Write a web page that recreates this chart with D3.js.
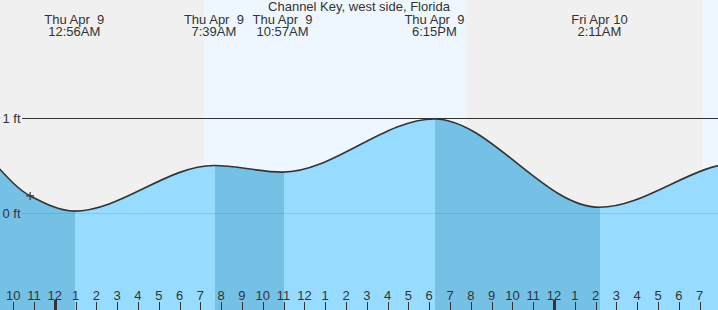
<!DOCTYPE html>
<html>
<head>
<meta charset="utf-8">
<script src="https://cdn.jsdelivr.net/npm/d3@7"></script>
<style>
  body { margin: 0; background: #fff; }
  svg { display: block; font-family: "Liberation Sans", Arial, sans-serif; }
  text { fill: #333; font-size: 13px; white-space: pre; }
</style>
</head>
<body>
<svg></svg>
<script>
let width = 718
let height = 310

// tide extremes (the outer ones lie outside the view and only shape the ends)
let tideTimes = ["2020-04-08T12:40", "2020-04-08T19:00", "2020-04-09T00:56", "2020-04-09T07:39", "2020-04-09T10:57", "2020-04-09T18:15", "2020-04-10T02:11", "2020-04-10T08:56", "2020-04-10T12:30"]
let tideHeights = [0.35, 0.85, 0.02, 0.50, 0.43, 0.99, 0.06, 0.53, 0.40]

// current reading (marked with a cross, lies on the curve)
let nowTime = "2020-04-08T22:49"
let nowHeight = 0.18

// labels above the chart, one per visible extreme
let labelDays = ["Thu Apr  9", "Thu Apr  9", "Thu Apr  9", "Thu Apr  9", "Fri Apr 10"]
let labelTimes = ["12:56AM", "7:39AM", "10:57AM", "6:15PM", "2:11AM"]

// sunrise / sunset
let sunTimes = ["2020-04-09T07:10", "2020-04-09T19:46", "2020-04-10T07:10"]

let yTicks = [0, 1]
let yTickLabels = ["0 ft", "1 ft"]

let title = "Channel Key, west side, Florida"

let parse = d3.timeParse("%Y-%m-%dT%H:%M")
let tides = tideTimes.map((t, i) => ({ time: parse(t), h: tideHeights[i] }))
let now = { time: parse(nowTime), h: nowHeight }
let suns = sunTimes.map(parse)

// curve points: extremes plus the current reading
let curvePoints = tides.concat([now]).sort((a, b) => a.time - b.time)

let svg = d3.select("svg").attr("width", width).attr("height", height)

let xScale = d3.scaleTime()
  .domain([parse("2020-04-08T21:22"), parse("2020-04-10T07:53")])
  .range([0, width])

let yScale = d3.scaleLinear()
  .domain([0, 1])
  .range([213, 118])

// night / day background
svg.append("rect").attr("width", width).attr("height", height).attr("fill", "#f0f0f0")
let dayRanges = [[suns[0], suns[1]], [suns[2], xScale.domain()[1]]]
svg.selectAll(".day")
  .data(dayRanges)
  .enter()
  .append("rect")
  .attr("class", "day")
  .attr("x", d => xScale(d[0]))
  .attr("width", d => xScale(d[1]) - xScale(d[0]))
  .attr("y", 0)
  .attr("height", height)
  .attr("fill", "#eef7ff")

// water area
let area = d3.area()
  .x(d => xScale(d.time))
  .y0(height)
  .y1(d => yScale(d.h))
  .curve(d3.curveMonotoneX)

let line = d3.line()
  .x(d => xScale(d.time))
  .y(d => yScale(d.h))
  .curve(d3.curveMonotoneX)

svg.append("clipPath").attr("id", "water")
  .append("path").attr("d", area(curvePoints))

// darker while falling, lighter while rising
let segments = d3.pairs(tides)
svg.append("g").attr("clip-path", "url(#water)")
  .selectAll("rect")
  .data(segments)
  .enter()
  .append("rect")
  .attr("x", d => Math.round(xScale(d[0].time)) + 1)
  .attr("width", d => Math.round(xScale(d[1].time)) - Math.round(xScale(d[0].time)))
  .attr("y", 0)
  .attr("height", height)
  .attr("fill", d => d[1].h < d[0].h ? "#74c1e5" : "#97dcff")

// horizontal reference lines
svg.selectAll(".yline")
  .data(yTicks)
  .enter()
  .append("line")
  .attr("class", "yline")
  .attr("x1", 22)
  .attr("x2", width)
  .attr("y1", d => Math.round(yScale(d)) + 0.5)
  .attr("y2", d => Math.round(yScale(d)) + 0.5)
  .attr("stroke", d => d == 0 ? "rgba(0,60,110,0.12)" : "#333")
  .attr("stroke-width", 1)

svg.selectAll(".ylabel")
  .data(yTicks)
  .enter()
  .append("text")
  .attr("class", "ylabel")
  .attr("x", 2.5)
  .attr("y", d => yScale(d) + 5)
  .text((d, i) => yTickLabels[i])

// tide curve
svg.append("path")
  .attr("d", line(curvePoints))
  .attr("fill", "none")
  .attr("stroke", "#333")
  .attr("stroke-width", 1.6)

// current time marker
let nx = xScale(now.time)
let ny = yScale(now.h)
svg.append("path")
  .attr("d", "M" + (nx - 4) + "," + ny + "H" + (nx + 4) + "M" + nx + "," + (ny - 4) + "V" + (ny + 4))
  .attr("stroke", "#333")
  .attr("stroke-width", 1.2)

// title and extreme labels
svg.append("text")
  .attr("x", width / 2)
  .attr("y", 11)
  .attr("text-anchor", "middle")
  .text(title)

let visible = tides.slice(2, 7)
let labels = svg.selectAll(".tlabel")
  .data(visible)
  .enter()
  .append("g")
  .attr("class", "tlabel")
  .attr("transform", d => "translate(" + xScale(d.time) + ",0)")
labels.append("text").attr("y", 24).attr("text-anchor", "middle").text((d, i) => labelDays[i])
labels.append("text").attr("y", 36).attr("text-anchor", "middle").text((d, i) => labelTimes[i])

// hour axis
let hours = xScale.ticks(d3.timeHour.every(1))
let xAxis = svg.append("g")
xAxis.selectAll("line")
  .data(hours)
  .enter()
  .append("line")
  .attr("x1", d => Math.round(xScale(d)) + 0.5)
  .attr("x2", d => Math.round(xScale(d)) + 0.5)
  .attr("y1", d => d.getHours() == 0 ? 300 : 302)
  .attr("y2", height)
  .attr("stroke", "#333")
  .attr("stroke-width", d => d.getHours() == 0 ? 3 : 1)
xAxis.selectAll("text")
  .data(hours)
  .enter()
  .append("text")
  .attr("x", d => xScale(d))
  .attr("y", 300)
  .attr("text-anchor", "middle")
  .text(d3.timeFormat("%-I"))
</script>
</body>
</html>
